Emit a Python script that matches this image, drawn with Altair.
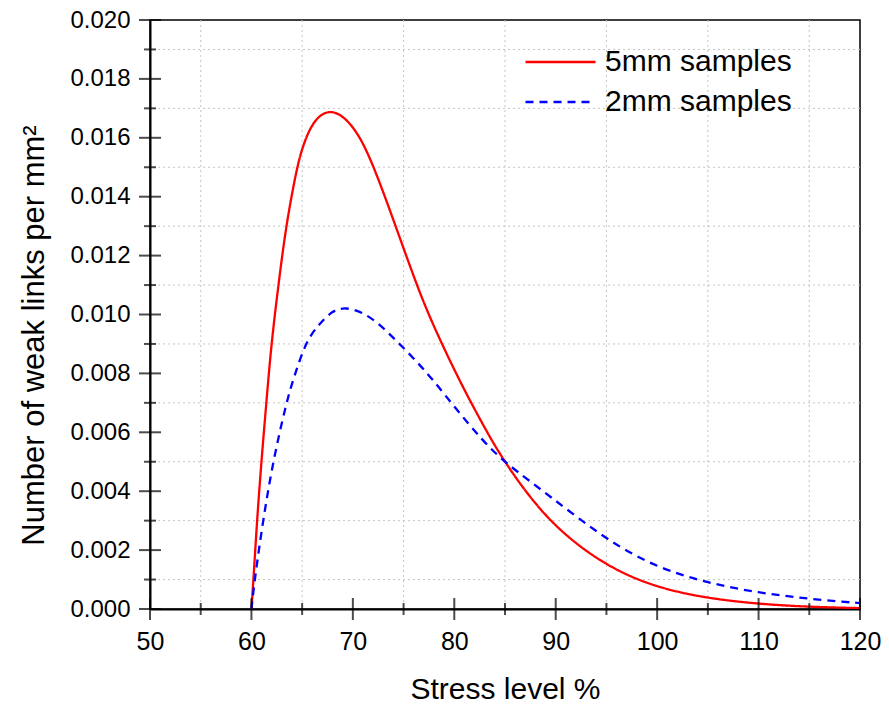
import altair as alt
import pandas as pd

# ---- data ----
stress_5mm = [60.0, 60.2, 60.55, 60.98, 61.47, 61.96, 62.71, 63.44, 64.42, 65.0, 66.06,
              67.63, 69.34, 70.98, 72.6, 74.26, 75.9, 77.53, 80.48, 82.77, 84.9, 89.33,
              95.0, 100.0, 105.0, 110.0, 115.0, 120.0]
links_5mm = [0.0, 1.0, 3.0, 5.0, 7.0, 9.0, 11.15, 13.07, 14.88, 15.67, 16.58,
             16.99, 16.69, 15.9, 14.54, 12.96, 11.38, 9.91, 7.76, 6.29, 4.99, 2.9,
             1.43, 0.72, 0.36, 0.17, 0.07, 0.03]

stress_2mm = [60.0, 60.32, 61.14, 62.12, 63.44, 64.09, 65.4, 66.7, 68.0, 69.3, 70.97,
              72.6, 74.26, 76.2, 77.86, 80.15, 82.77, 84.9, 89.33, 95.0, 100.0, 105.0,
              110.0, 115.0, 120.0]
links_2mm = [0.0, 1.0, 3.0, 5.0, 7.0, 7.76, 9.12, 9.68, 10.14, 10.25, 10.08,
             9.68, 9.12, 8.44, 7.8, 6.8, 5.73, 4.99, 3.86, 2.34, 1.40, 0.88,
             0.55, 0.34, 0.20]

series_names = ["5mm samples", "2mm samples"]

x_major = [50, 60, 70, 80, 90, 100, 110, 120]
x_minor = [55, 65, 75, 85, 95, 105, 115]
y_major = [0.000, 0.002, 0.004, 0.006, 0.008, 0.010, 0.012, 0.014, 0.016, 0.018, 0.020]
y_minor = [0.001, 0.003, 0.005, 0.007, 0.009, 0.011, 0.013, 0.015, 0.017, 0.019]

# ---- tables ----
df = pd.concat([
    pd.DataFrame({"stress": stress_5mm, "links": [v / 1000 for v in links_5mm], "series": series_names[0]}),
    pd.DataFrame({"stress": stress_2mm, "links": [v / 1000 for v in links_2mm], "series": series_names[1]}),
], ignore_index=True)

FONT = "Liberation Sans"
W, H = 710, 589

xs = alt.Scale(domain=[50, 120], nice=False, zero=False)
ys = alt.Scale(domain=[0, 0.02], nice=False, zero=False)

legend = alt.Legend(
    title=None, orient="none", legendX=374, legendY=27,
    symbolType="stroke", symbolSize=4900, symbolStrokeWidth=2.3,
    labelFontSize=30, labelFont=FONT, labelColor="black", labelOffset=8,
    labelLimit=500, clipHeight=30, rowPadding=10, padding=0,
)

grid_x = alt.Chart(pd.DataFrame({"stress": x_minor})).mark_rule(
    color="#c4c4c4", strokeDash=[2, 3], strokeWidth=1
).encode(x=alt.X("stress:Q", scale=xs))

grid_y = alt.Chart(pd.DataFrame({"links": y_minor})).mark_rule(
    color="#c4c4c4", strokeDash=[2, 3], strokeWidth=1
).encode(y=alt.Y("links:Q", scale=ys))

lines = alt.Chart(df).mark_line(strokeWidth=2.3, interpolate="basis", clip=True).encode(
    x=alt.X("stress:Q", scale=xs,
            axis=alt.Axis(values=x_major, format="d", title="Stress level %",
                          grid=False, ticks=False, tickSize=0, labelPadding=20,
                          labelFlush=False, labelOverlap=False,
                          labelFontSize=25, labelFont=FONT, labelColor="black",
                          titleFontSize=30, titleFont=FONT, titleFontWeight="normal",
                          titleColor="black", titleY=89, titleBaseline="alphabetic",
                          domainColor="black", domainWidth=2)),
    y=alt.Y("links:Q", scale=ys,
            axis=alt.Axis(values=y_major, format=".3f", title="Number of weak links per mm²",
                          grid=False, ticks=False, tickSize=0, labelPadding=20,
                          labelFlush=False, labelOverlap=False,
                          labelFontSize=24, labelFont=FONT, labelColor="black",
                          titleFontSize=31, titleFont=FONT, titleFontWeight="normal",
                          titleColor="black", titleX=-116, titleY=315,
                          titleBaseline="middle", titleAlign="center", titleAngle=270,
                          domainColor="black", domainWidth=2)),
    color=alt.Color("series:N", scale=alt.Scale(domain=series_names, range=["#ff0000", "#0000ff"]),
                    legend=legend),
    strokeDash=alt.StrokeDash("series:N", scale=alt.Scale(domain=series_names, range=[[1, 0], [8, 6]]),
                              legend=legend),
)

tick_x_major = alt.Chart(pd.DataFrame({"stress": x_major})).mark_tick(
    color="black", thickness=2, size=22
).encode(x=alt.X("stress:Q", scale=xs), y=alt.value(H))

tick_x_minor = alt.Chart(pd.DataFrame({"stress": x_minor})).mark_tick(
    color="black", thickness=2, size=12
).encode(x=alt.X("stress:Q", scale=xs), y=alt.value(H))

tick_y_major = alt.Chart(pd.DataFrame({"links": y_major})).mark_tick(
    color="black", thickness=2, size=22
).encode(y=alt.Y("links:Q", scale=ys), x=alt.value(0))

tick_y_minor = alt.Chart(pd.DataFrame({"links": y_minor})).mark_tick(
    color="black", thickness=2, size=12
).encode(y=alt.Y("links:Q", scale=ys), x=alt.value(0))

chart = alt.layer(
    grid_x, grid_y, lines, tick_x_major, tick_x_minor, tick_y_major, tick_y_minor
).properties(
    width=W, height=H,
    padding={"left": 142, "top": 12, "right": 21, "bottom": 94},
    autosize=alt.AutoSizeParams(type="none"),
    background="white",
).configure_view(stroke="black", strokeWidth=1.5)

chart.save("out.html", embed_options={"renderer": "svg", "actions": False})
